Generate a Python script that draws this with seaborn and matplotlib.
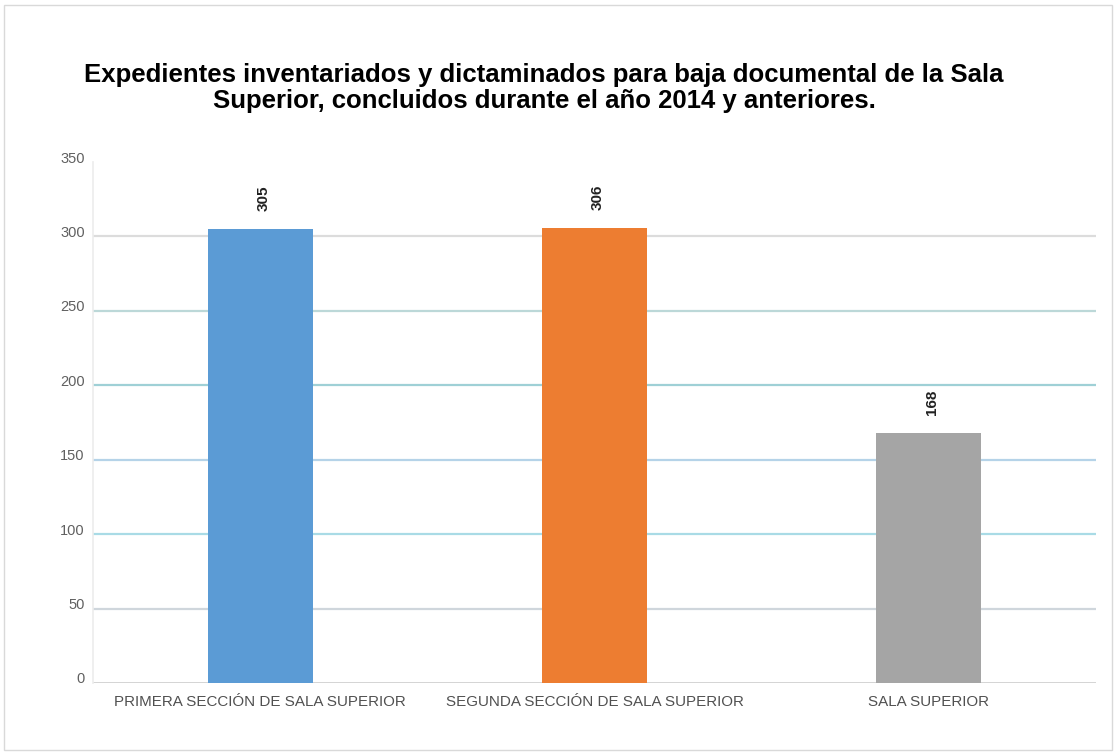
import matplotlib
matplotlib.use("Agg")
import matplotlib.pyplot as plt
import matplotlib.transforms as mtransforms
import seaborn as sns
import pandas as pd
from matplotlib.patches import Rectangle

categorias = ["PRIMERA SECCIÓN DE SALA SUPERIOR",
              "SEGUNDA SECCIÓN DE SALA SUPERIOR",
              "SALA SUPERIOR"]
expedientes = [305, 306, 168]
colores = ["#5B9BD5", "#ED7D31", "#A5A5A5"]
ticks_y = [0, 50, 100, 150, 200, 250, 300, 350]
titulo = ("Expedientes inventariados y dictaminados para baja documental de la Sala\n"
          "Superior, concluidos durante el año 2014 y anteriores.")

sns.set_theme(style="white")
plt.rcParams['font.family'] = ['Liberation Sans', 'DejaVu Sans']

df = pd.DataFrame({"categoria": categorias, "valor": expedientes})

fig = plt.figure(figsize=(11.18, 7.55), dpi=100)
fig.patch.set_facecolor("white")
# thin frame around the whole figure
fig.add_artist(Rectangle((0.004, 0.007), 0.991, 0.986, transform=fig.transFigure,
                         fill=False, edgecolor="#d9d9d9", linewidth=1.0))

ax = fig.add_axes([0.0832, 0.0954, 0.897, 0.69])
sns.barplot(data=df, x="categoria", y="valor", hue="categoria", palette=colores,
            width=0.315, legend=False, ax=ax, saturation=1, linewidth=0)

ax.set_xlim(-0.5, 2.5)
ax.set_ylim(0, 350)
ax.set_yticks(ticks_y)
ax.set_xlabel("")
ax.set_ylabel("")

# horizontal gridlines in soft tones
grid_cols = {50: "#cfd6dc", 100: "#a9dbe6", 150: "#b5d3e8", 200: "#9fd0d6",
             250: "#bcd8d8", 300: "#dcdcdc"}
for v, c in grid_cols.items():
    ax.axhline(v, color=c, linewidth=1.6, zorder=0)
ax.axhline(0, color="#d0d0d0", linewidth=2, zorder=0)

for s in ["top", "right", "bottom"]:
    ax.spines[s].set_visible(False)
ax.spines["left"].set_color("#ececec")
ax.spines["left"].set_linewidth(1.2)

ax.tick_params(axis="y", length=0, pad=6, labelsize=10.5, labelcolor="#606060")
ax.tick_params(axis="x", length=0, pad=9, labelsize=10.9, labelcolor="#505050")
# y labels sit a little above their gridlines
lift = mtransforms.ScaledTranslation(0, 5 / 100, fig.dpi_scale_trans)
for lab in ax.get_yticklabels():
    lab.set_transform(lab.get_transform() + lift)

for i, v in enumerate(expedientes):
    ax.text(i + 0.01, v + 12, str(v), rotation=90, ha="center", va="bottom",
            fontsize=11, fontweight="bold", color="#222222")

fig.text(0.4866, 0.883, titulo, ha="center", va="center", fontsize=18.5,
         fontweight="bold", color="black", linespacing=1.12)

fig.savefig("out.png", dpi=100, facecolor="white")
